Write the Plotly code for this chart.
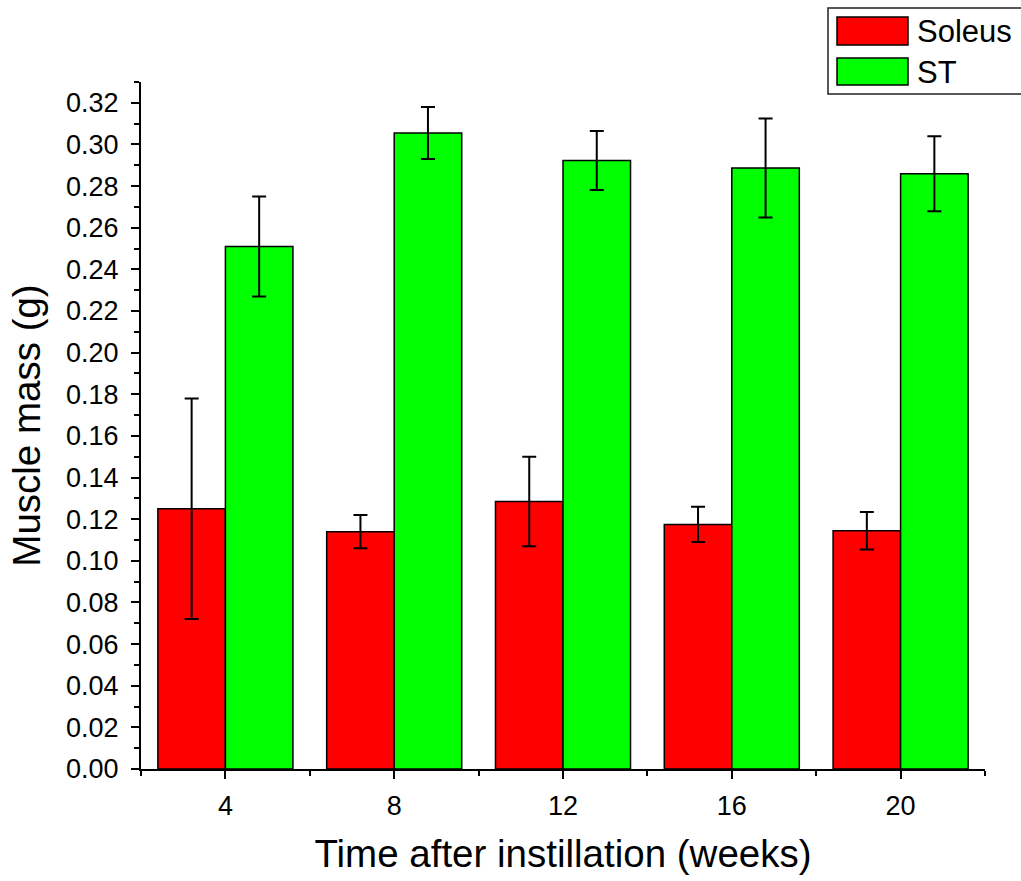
import plotly.graph_objects as go

weeks = [4, 8, 12, 16, 20]
soleus = [0.125, 0.114, 0.1285, 0.1175, 0.1144]
soleus_err = [0.053, 0.008, 0.0215, 0.0085, 0.009]
st = [0.251, 0.3055, 0.2923, 0.2887, 0.2859]
st_err = [0.024, 0.0125, 0.0142, 0.0238, 0.018]
series_names = ["Soleus", "ST"]
colors = ["#ff0000", "#00ff00"]

FONT = "Liberation Sans, Arial, sans-serif"

fig = go.Figure()
for name, vals, errs, col in [(series_names[0], soleus, soleus_err, colors[0]),
                              (series_names[1], st, st_err, colors[1])]:
    fig.add_trace(go.Bar(
        x=weeks, y=vals, name=name,
        marker=dict(color=col, line=dict(color="black", width=1.5)),
        error_y=dict(type="data", array=errs, visible=True, color="black",
                     thickness=2, width=7),
        showlegend=False,
    ))

# plot area in pixels: left 141, right 985, top 82, bottom 769
L, R, T, B = 141, 985, 82, 769
def px(x):
    return (x - L) / (R - L)
def py(y):
    return (B - y) / (B - T)

shapes = [
    dict(type="rect", xref="paper", yref="paper", x0=px(828), x1=px(1030),
         y0=py(94), y1=py(8), line=dict(color="#222222", width=1.5),
         fillcolor="rgba(0,0,0,0)"),
    dict(type="rect", xref="paper", yref="paper", x0=px(837), x1=px(908),
         y0=py(45), y1=py(17), line=dict(color="black", width=1.5),
         fillcolor=colors[0]),
    dict(type="rect", xref="paper", yref="paper", x0=px(837), x1=px(908),
         y0=py(85), y1=py(58), line=dict(color="black", width=1.5),
         fillcolor=colors[1]),
]
annotations = [
    dict(xref="paper", yref="paper", x=px(915), y=py(32), text=series_names[0],
         showarrow=False, xanchor="left", yanchor="middle",
         font=dict(family=FONT, size=31, color="black")),
    dict(xref="paper", yref="paper", x=px(915), y=py(72), text=series_names[1],
         showarrow=False, xanchor="left", yanchor="middle",
         font=dict(family=FONT, size=31, color="black")),
]

fig.update_layout(
    width=1021, height=881,
    margin=dict(l=L, r=1021 - R, t=T, b=881 - B),
    paper_bgcolor="white", plot_bgcolor="white",
    barmode="group", bargap=0.2, bargroupgap=0,
    font=dict(family=FONT, color="black"),
    shapes=shapes, annotations=annotations,
    xaxis=dict(
        range=[2, 22], tickmode="array", tickvals=weeks,
        ticktext=[str(w) for w in weeks],
        showline=True, linecolor="black", linewidth=2,
        ticks="outside", ticklen=8, tickwidth=2, tickcolor="black",
        ticklabelstandoff=4,
        minor=dict(tickvals=[2, 6, 10, 14, 18, 22], ticks="outside", ticklen=5,
                   tickwidth=2, tickcolor="black", showgrid=False),
        showgrid=False, zeroline=False,
        tickfont=dict(size=27, family=FONT),
        title=dict(text="Time after instillation (weeks)",
                   font=dict(size=38.5, family=FONT), standoff=20),
    ),
    yaxis=dict(
        range=[0, 0.33], tick0=0, dtick=0.02, tickformat=".2f",
        showline=True, linecolor="black", linewidth=2,
        ticks="outside", ticklen=8, tickwidth=2, tickcolor="black",
        ticklabelstandoff=7,
        minor=dict(dtick=0.01, tick0=0, ticks="outside", ticklen=5,
                   tickwidth=2, tickcolor="black", showgrid=False),
        showgrid=False, zeroline=False,
        tickfont=dict(size=27, family=FONT),
        title=dict(text="Muscle mass (g)", font=dict(size=38.5, family=FONT),
                   standoff=14),
    ),
)

fig.write_html("out.html")
